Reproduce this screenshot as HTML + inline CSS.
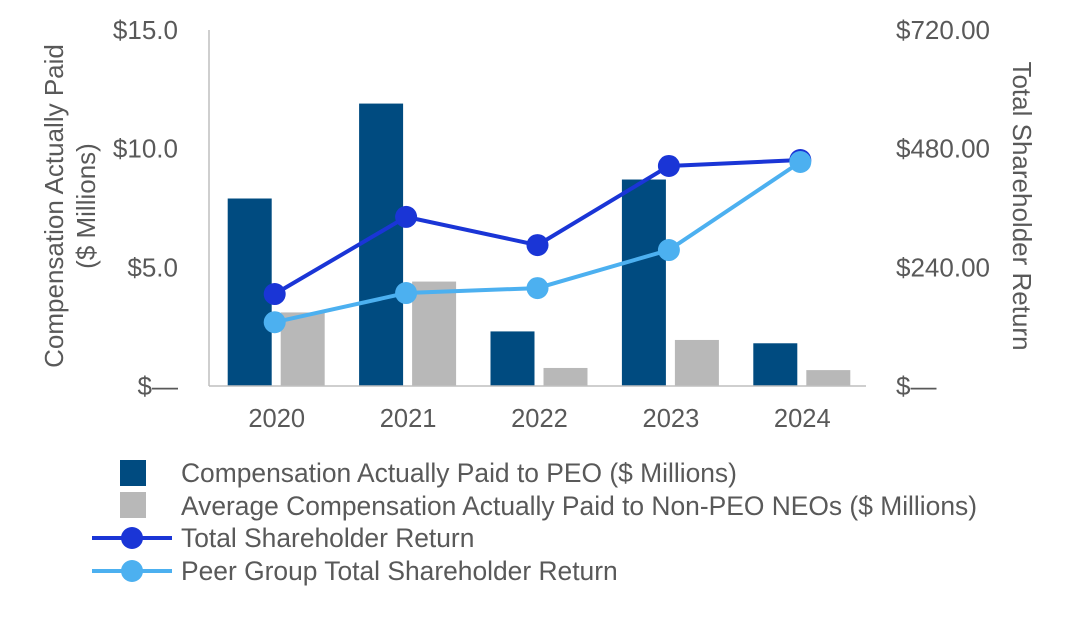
<!DOCTYPE html>
<html><head><meta charset="utf-8"><style>
body{margin:0;background:#fff;width:1076px;height:614px;overflow:hidden;font-family:"Liberation Sans",sans-serif}
svg text{font-family:"Liberation Sans",sans-serif;fill:#595959}
</style></head><body>
<svg id="chart" width="1076" height="614"></svg>
<script>
const categories=["2020","2021","2022","2023","2024"];
const peoValues=[7.9,11.9,2.3,8.7,1.8];
const neoValues=[3.1,4.4,0.76,1.94,0.67];
const tsrValues=[186,342,285,445,457];
const peerValues=[129,188,198,275,453];
const leftTicks=[0,5,10,15];
const leftTickLabels=["$—","$5.0","$10.0","$15.0"];
const rightTicks=[0,240,480,720];
const rightTickLabels=["$—","$240.00","$480.00","$720.00"];

const NS="http://www.w3.org/2000/svg";
const svg=document.getElementById('chart');
function mk(t,a,txt){const e=document.createElementNS(NS,t);for(const k in a)e.setAttribute(k,a[k]);if(txt!=null)e.textContent=txt;svg.appendChild(e);return e;}
const X0=209,X1=866,Y0=386,Y1=30;
const band=(X1-X0)/categories.length;
const xc=i=>X0+band*(i+0.5);
const yL=v=>Y0-(v/15)*(Y0-Y1);
const yR=v=>Y0-(v/720)*(Y0-Y1);
const FS=26;
const LFS=26.4;
let e;
e=mk('line',{x1:X0,y1:Y1,x2:X0,y2:Y0,stroke:'#bfbfbf','stroke-width':1.5});


leftTicks.forEach((v,i)=>{const t=mk('text',{x:178,y:yL(v)+9,'text-anchor':'end','font-size':FS},leftTickLabels[i]);

});
rightTicks.forEach((v,i)=>{const t=mk('text',{x:896,y:yR(v)+9,'font-size':FS},rightTickLabels[i]);

});
categories.forEach((c,i)=>{
 const b1=mk('rect',{x:xc(i)-47,y:yL(peoValues[i]),width:44,height:Y0-yL(peoValues[i]),fill:'#004b80'});
 
 
 const b2=mk('rect',{x:xc(i)+6,y:yL(neoValues[i]),width:44,height:Y0-yL(neoValues[i]),fill:'#b8b8b8'});
 
 
 const t=mk('text',{x:xc(i)+2,y:427,'text-anchor':'middle','font-size':FS-0.5},c);
 
 
});
e=mk('line',{x1:X0,y1:Y0,x2:X1,y2:Y0,stroke:'#bfbfbf','stroke-width':1.5});


function series(vals,col,name){
 const p=mk('polyline',{points:vals.map((v,i)=>xc(i)+','+yR(v)).join(' '),fill:'none',stroke:col,'stroke-width':4});
 
 
 vals.forEach((v,i)=>{const c=mk('circle',{cx:xc(i),cy:yR(v),r:11,fill:col});
 
 });
}
series(tsrValues,'#1a35d6','tsr');
series(peerValues,'#4cb0f0','peer-tsr');
e=mk('text',{transform:'translate(63,206) rotate(-90)','text-anchor':'middle','font-size':FS},'Compensation Actually Paid');


e=mk('text',{transform:'translate(95,206) rotate(-90)','text-anchor':'middle','font-size':FS},'($ Millions)');


e=mk('text',{transform:'translate(1013,206) rotate(90)','text-anchor':'middle','font-size':FS},'Total Shareholder Return');


e=mk('rect',{x:120,y:460,width:26,height:26,fill:'#004b80'});


e=mk('text',{x:181,y:482,'font-size':LFS},'Compensation Actually Paid to PEO ($ Millions)');


e=mk('rect',{x:120,y:492,width:26,height:26,fill:'#b8b8b8'});


e=mk('text',{x:181,y:515,'font-size':LFS},'Average Compensation Actually Paid to Non-PEO NEOs ($ Millions)');


[[538,'#1a35d6','Total Shareholder Return','tsr'],[571,'#4cb0f0','Peer Group Total Shareholder Return','peer-tsr']].forEach(r=>{
 const l=mk('line',{x1:92,y1:r[0],x2:172,y2:r[0],stroke:r[1],'stroke-width':4});
 
 
 const c=mk('circle',{cx:132,cy:r[0],r:11,fill:r[1]});
 
 
 const t=mk('text',{x:181,y:r[0]+9,'font-size':LFS},r[2]);
 
 
});
</script>
</body></html>
